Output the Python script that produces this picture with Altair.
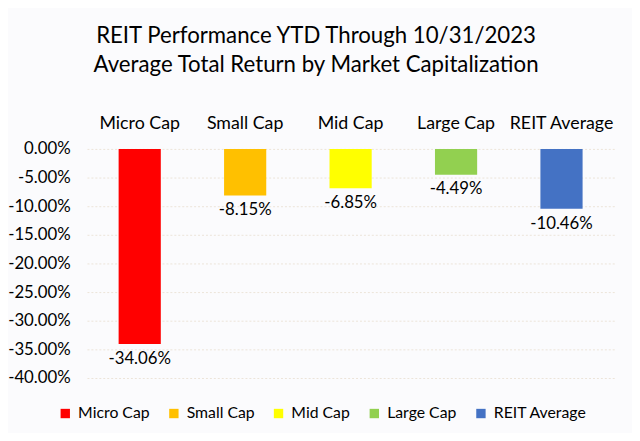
import altair as alt
import pandas as pd

categories = ["Micro Cap", "Small Cap", "Mid Cap", "Large Cap", "REIT Average"]
returns = [-0.3406, -0.0815, -0.0685, -0.0449, -0.1046]
colors = ["#ff0000", "#ffc000", "#ffff00", "#92d050", "#4472c4"]
y_ticks = [0, -0.05, -0.10, -0.15, -0.20, -0.25, -0.30, -0.35, -0.40]

df = pd.DataFrame({"cat": categories, "ret": returns})
FONT = "Lato"
LBL = "replace(format(datum.value, '.2%'), '\u2212', '-')"

x = alt.X("cat:N", sort=categories, title=None,
          scale=alt.Scale(paddingInner=0.6, paddingOuter=0.3),
          axis=alt.Axis(orient="top", labelAngle=0, domain=False, ticks=False,
                        labelPadding=17, labelFontSize=18, labelColor="black",
                        labelFont=FONT))
y = alt.Y("ret:Q", title=None,
          scale=alt.Scale(domain=[-0.40, 0], nice=False),
          axis=alt.Axis(values=y_ticks, labelExpr=LBL, domain=False, ticks=False,
                        labelOverlap=False, labelPadding=17, labelFontSize=17,
                        labelColor="black", labelFont=FONT,
                        gridColor="#ece4d8", gridDash=[2, 2]))

bars = alt.Chart(df).mark_bar().encode(
    x=x, y=y,
    color=alt.Color("cat:N", sort=categories,
                    scale=alt.Scale(domain=categories, range=colors),
                    legend=alt.Legend(title=None, orient="none", direction="horizontal",
                                      legendX=-30, legendY=260, symbolType="square",
                                      symbolSize=90, symbolStrokeWidth=0,
                                      labelFontSize=16, labelFont=FONT, labelOffset=5,
                                      labelColor="black", columnPadding=16)),
)
labels = alt.Chart(df).transform_calculate(
    lbl="replace(format(datum.ret, '.2%'), '\u2212', '-')"
).mark_text(baseline="top", dy=7, fontSize=17, font=FONT, color="black").encode(
    x=x, y=y, text="lbl:N")

chart = (bars + labels).properties(
    width=534, height=232,
    autosize=alt.AutoSizeParams(type="none"),
    padding={"left": 80, "top": 140, "right": 18, "bottom": 53},
    background="#fbfbfd",
    title=alt.Title(text="REIT Performance YTD Through 10/31/2023",
                    subtitle="Average Total Return by Market Capitalization",
                    anchor="middle", fontSize=22.5, subtitleFontSize=22.5,
                    font=FONT, subtitleFont=FONT, fontWeight="normal",
                    color="black", subtitleColor="black", offset=38,
                    subtitlePadding=7, dx=-35),
).configure_view(stroke=None)

chart.save("out.html", embed_options={"renderer": "svg", "actions": False})
